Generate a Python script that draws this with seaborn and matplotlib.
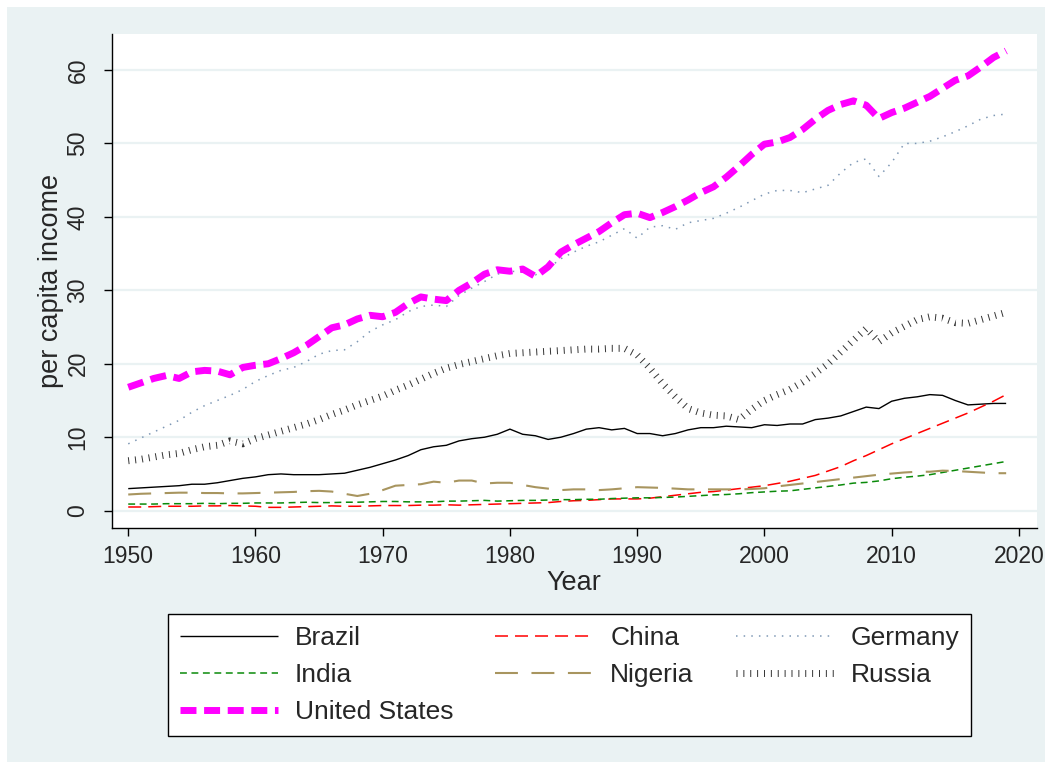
import matplotlib
matplotlib.use('Agg')
import matplotlib.pyplot as plt
import seaborn as sns
import pandas as pd
from matplotlib.patches import Rectangle

years = list(range(1950, 2020))

brazil = [3.0, 3.1, 3.2, 3.3, 3.4, 3.6, 3.6, 3.8, 4.1, 4.4,
          4.6, 4.9, 5.0, 4.9, 4.9, 4.9, 5.0, 5.1, 5.5, 5.9,
          6.4, 6.9, 7.5, 8.3, 8.7, 8.9, 9.5, 9.8, 10.0, 10.4,
          11.1, 10.4, 10.2, 9.7, 10.0, 10.5, 11.1, 11.3, 11.0, 11.2,
          10.5, 10.5, 10.2, 10.5, 11.0, 11.3, 11.3, 11.5, 11.4, 11.3,
          11.7, 11.6, 11.8, 11.8, 12.4, 12.6, 12.9, 13.5, 14.1, 13.9,
          14.9, 15.3, 15.5, 15.8, 15.7, 15.0, 14.4, 14.5, 14.6, 14.6]
china = [0.5, 0.5, 0.55, 0.6, 0.6, 0.6, 0.65, 0.65, 0.7, 0.65,
         0.6, 0.45, 0.45, 0.5, 0.55, 0.6, 0.65, 0.6, 0.6, 0.65,
         0.7, 0.7, 0.7, 0.75, 0.75, 0.8, 0.75, 0.8, 0.85, 0.9,
         0.95, 1.0, 1.05, 1.1, 1.25, 1.35, 1.4, 1.5, 1.6, 1.6,
         1.6, 1.7, 1.9, 2.1, 2.3, 2.5, 2.6, 2.8, 3.0, 3.2,
         3.4, 3.7, 4.0, 4.4, 4.8, 5.4, 6.0, 6.8, 7.5, 8.3,
         9.1, 9.8, 10.5, 11.2, 11.9, 12.6, 13.3, 14.1, 14.9, 15.8]
germany = [9.1, 9.9, 10.7, 11.5, 12.3, 13.4, 14.3, 15.0, 15.7, 16.5,
           17.6, 18.4, 19.1, 19.5, 20.3, 21.3, 21.8, 21.9, 23.0, 24.4,
           25.3, 26.0, 27.1, 27.8, 28.0, 27.8, 29.3, 30.3, 31.2, 32.2,
           32.6, 32.5, 32.1, 33.0, 34.3, 35.2, 36.0, 36.6, 37.5, 38.4,
           37.1, 38.6, 38.8, 38.3, 39.2, 39.5, 39.8, 40.5, 41.3, 42.2,
           43.1, 43.6, 43.6, 43.3, 43.8, 44.3, 46.0, 47.4, 47.9, 45.5,
           47.4, 50.0, 50.0, 50.3, 50.9, 51.6, 52.4, 53.3, 53.8, 54.0]
india = [0.9, 0.9, 0.9, 0.95, 0.95, 0.95, 1.0, 0.95, 1.0, 1.0,
         1.05, 1.05, 1.05, 1.1, 1.15, 1.1, 1.1, 1.15, 1.15, 1.2,
         1.25, 1.25, 1.2, 1.2, 1.2, 1.3, 1.3, 1.35, 1.4, 1.3,
         1.35, 1.4, 1.4, 1.45, 1.5, 1.5, 1.55, 1.55, 1.65, 1.7,
         1.75, 1.75, 1.8, 1.85, 1.95, 2.05, 2.15, 2.2, 2.3, 2.45,
         2.55, 2.65, 2.7, 2.9, 3.1, 3.3, 3.5, 3.75, 3.85, 4.05,
         4.35, 4.55, 4.7, 4.9, 5.2, 5.5, 5.8, 6.1, 6.4, 6.7]
nigeria = [2.2, 2.3, 2.35, 2.4, 2.45, 2.45, 2.4, 2.4, 2.35, 2.35,
           2.4, 2.45, 2.5, 2.55, 2.65, 2.7, 2.6, 2.3, 2.0, 2.3,
           2.8, 3.4, 3.5, 3.6, 3.95, 3.8, 4.1, 4.1, 3.7, 3.8,
           3.8, 3.5, 3.2, 3.0, 2.8, 2.9, 2.9, 2.8, 2.9, 3.05,
           3.2, 3.15, 3.1, 3.0, 2.9, 2.9, 2.9, 2.9, 2.9, 2.95,
           3.05, 3.3, 3.5, 3.7, 3.9, 4.1, 4.3, 4.5, 4.7, 4.9,
           5.05, 5.2, 5.3, 5.3, 5.45, 5.4, 5.3, 5.2, 5.1, 5.1]
russia = [6.8, 7.0, 7.3, 7.6, 7.8, 8.3, 8.7, 8.9, 9.5, 9.1,
          9.8, 10.3, 10.8, 11.3, 11.8, 12.4, 13.1, 13.7, 14.4, 15.0,
          15.6, 16.4, 17.1, 17.9, 18.7, 19.4, 19.9, 20.3, 20.7, 21.1,
          21.4, 21.5, 21.6, 21.7, 21.8, 21.9, 22.0, 22.0, 22.1, 22.1,
          21.2, 19.4, 17.3, 15.5, 13.9, 13.3, 13.0, 12.9, 12.4, 13.8,
          15.0, 15.8, 16.5, 17.5, 18.7, 20.0, 21.6, 23.2, 24.8, 23.0,
          24.2, 25.1, 26.0, 26.4, 26.2, 25.6, 25.5, 26.0, 26.5, 27.0]
usa = [16.8, 17.4, 18.0, 18.4, 18.0, 18.9, 19.1, 19.0, 18.5, 19.5,
       19.8, 20.0, 20.7, 21.5, 22.5, 23.7, 24.9, 25.3, 26.1, 26.6,
       26.4, 27.0, 28.2, 29.1, 28.8, 28.6, 30.0, 31.0, 32.2, 32.8,
       32.6, 32.9, 31.9, 33.2, 35.2, 36.2, 37.1, 38.0, 39.2, 40.3,
       40.5, 39.9, 40.6, 41.4, 42.3, 43.3, 44.1, 45.4, 46.9, 48.5,
       49.9, 50.2, 50.8, 51.9, 53.3, 54.5, 55.3, 55.8, 55.2, 53.4,
       54.2, 54.8, 55.6, 56.4, 57.5, 58.6, 59.2, 60.4, 61.7, 62.6]

countries = ['Brazil', 'China', 'Germany', 'India', 'Nigeria', 'Russia', 'United States']
df = pd.DataFrame({'Year': years, 'Brazil': brazil, 'China': china, 'Germany': germany,
                   'India': india, 'Nigeria': nigeria, 'Russia': russia,
                   'United States': usa})
df = df.melt(id_vars='Year', var_name='country', value_name='income')

# line look per country (Stata-like patterns)
styles = {
    'Brazil': dict(color='black', lw=1.0, ls='-'),
    'China': dict(color='#FF0000', lw=1.1, ls=(0, (8.5, 4.6))),
    'Germany': dict(color='#7F98B5', lw=1.1, ls=(0, (1, 4))),
    'India': dict(color='#0A8A0A', lw=1.1, ls=(0, (4.5, 3))),
    'Nigeria': dict(color='#A8955F', lw=1.5, ls=(0, (11, 6.5))),
    'Russia': dict(color='#333333', lw=5.0, ls=(0, (0.14, 0.85))),
    'United States': dict(color='#FF00FF', lw=5.0, ls=(0, (2.3, 1.1))),
}

sns.set_style('white')
plt.rcParams['font.family'] = ['Liberation Sans', 'DejaVu Sans']

W, H = 1052, 769
fig = plt.figure(figsize=(W / 100, H / 100), dpi=100)
fig.patches.append(Rectangle((7 / W, 7 / H), 1038 / W, 755 / H, transform=fig.transFigure,
                             facecolor='#EAF2F3', edgecolor='none', zorder=-5))
ax = fig.add_axes([111.7 / W, 1 - 528 / H, 925 / W, 494 / H])
ax.set_facecolor('white')

for c in countries:
    s = styles[c]
    sns.lineplot(data=df[df['country'] == c], x='Year', y='income', ax=ax, label=c,
                 color=s['color'], linewidth=s['lw'], linestyle=s['ls'],
                 dash_capstyle='butt', solid_capstyle='butt', solid_joinstyle='miter')

ax.set_xlim(1948.7, 2021.4)
ax.set_ylim(-2.36, 64.9)
ax.set_xticks(range(1950, 2021, 10))
ax.set_yticks(range(0, 61, 10))
ax.yaxis.grid(True, color='#EAF2F3', lw=1.6)
ax.xaxis.grid(False)
ax.set_axisbelow(True)

for sp in ['top', 'right']:
    ax.spines[sp].set_visible(False)
for sp in ['left', 'bottom']:
    ax.spines[sp].set_color('black')
    ax.spines[sp].set_linewidth(1.0)

ax.tick_params(axis='both', which='major', direction='out', length=6, width=1,
               color='black', labelsize=16.5, pad=6, bottom=True, left=True)
ax.tick_params(axis='y', labelrotation=90, pad=10)
for t in ax.yaxis.get_major_ticks():
    t.label1.set_va('center')

ax.set_xlabel('Year', fontsize=19.5, labelpad=2)
ax.set_ylabel('per capita income', fontsize=19.5, labelpad=2)

handles, labels = ax.get_legend_handles_labels()
order = ['Brazil', 'India', 'United States', 'China', 'Nigeria', 'Germany', 'Russia']
hmap = dict(zip(labels, handles))
leg = ax.legend([hmap[k] for k in order], order, ncol=3, loc='upper left',
                bbox_to_anchor=(168 / W, 1 - 614 / H), bbox_transform=fig.transFigure,
                frameon=True, fancybox=False, edgecolor='black', fontsize=19,
                handlelength=3.7, handletextpad=0.65, columnspacing=1.6,
                borderpad=0.45, labelspacing=0.5, borderaxespad=0)
leg.get_frame().set_linewidth(1.0)
leg.get_frame().set_facecolor('white')
leg.get_frame().set_alpha(1)

fig.savefig('out.png', dpi=100, facecolor='white')
